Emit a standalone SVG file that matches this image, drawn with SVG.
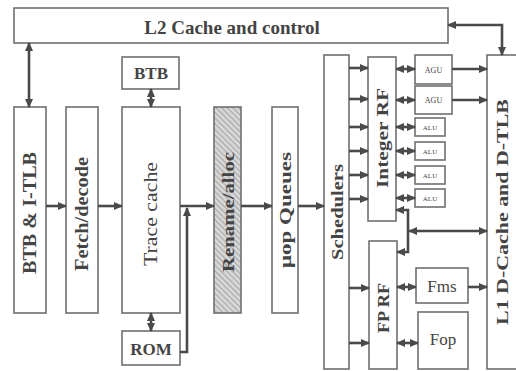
<svg xmlns="http://www.w3.org/2000/svg" width="516" height="371" viewBox="0 0 516 371">
<defs>
<marker id="ah" markerUnits="userSpaceOnUse" markerWidth="9" markerHeight="8" refX="8" refY="4" orient="auto-start-reverse"><path d="M0,0 L9,4 L0,8 z" fill="#4a4a4a"/></marker>
<pattern id="hatch" patternUnits="userSpaceOnUse" width="4" height="4" patternTransform="rotate(-45)"><rect width="4" height="4" fill="#d6d6d6"/><line x1="0" y1="0" x2="0" y2="4" stroke="#999" stroke-width="1.6"/></pattern>
<style>
.b{fill:#fff;stroke:#707070;stroke-width:1.6}
.t{font-family:"Liberation Serif",serif;font-weight:bold;fill:#444;text-anchor:middle;dominant-baseline:central}
.n{font-weight:normal}
.c{fill:none;stroke:#4a4a4a;stroke-width:2.6}
.s{marker-end:url(#ah)}
.d{marker-start:url(#ah);marker-end:url(#ah)}
</style>
</defs>
<rect width="516" height="371" fill="#fff"/>
<g id="l2"><rect class="b" x="14" y="8" width="434" height="35"/><text class="t" x="232" y="27" font-size="19">L2 Cache and control</text></g>
<g id="btb-itlb"><rect class="b" x="14" y="107" width="32" height="206"/><text class="t" transform="translate(30,213) rotate(-90)" font-size="18" textLength="122" lengthAdjust="spacingAndGlyphs">BTB &amp; I-TLB</text></g>
<g id="fetch"><rect class="b" x="66" y="107" width="32" height="206"/><text class="t" transform="translate(82,214) rotate(-90)" font-size="18" textLength="114" lengthAdjust="spacingAndGlyphs">Fetch/decode</text></g>
<g id="trace"><rect class="b" x="122" y="107" width="58" height="206"/><text class="t n" transform="translate(151,214) rotate(-90)" font-size="18" textLength="104" lengthAdjust="spacingAndGlyphs">Trace cache</text></g>
<g id="btb"><rect class="b" x="122" y="57" width="57" height="32"/><text class="t" x="151" y="73" font-size="17">BTB</text></g>
<g id="rom"><rect class="b" x="122" y="331" width="58" height="34"/><text class="t" x="151" y="349" font-size="17">ROM</text></g>
<g id="rename"><rect x="214" y="107" width="27" height="206" fill="url(#hatch)" stroke="#707070" stroke-width="1.6"/><text class="t" transform="translate(228,212) rotate(-90)" font-size="17" textLength="120" lengthAdjust="spacingAndGlyphs">Rename/alloc</text></g>
<g id="queues"><rect class="b" x="272" y="107" width="26" height="206"/><text class="t" transform="translate(285,210) rotate(-90)" font-size="17" textLength="116" lengthAdjust="spacingAndGlyphs">μop Queues</text></g>
<g id="schedulers"><rect class="b" x="324" y="55" width="25" height="314"/><text class="t" transform="translate(337,212) rotate(-90)" font-size="17" textLength="96" lengthAdjust="spacingAndGlyphs">Schedulers</text></g>
<g id="intrf"><rect class="b" x="368" y="57" width="28" height="164"/><text class="t" transform="translate(382,138) rotate(-90)" font-size="17" textLength="100" lengthAdjust="spacingAndGlyphs">Integer RF</text></g>
<g id="fprf"><rect class="b" x="369" y="241" width="28" height="128"/><text class="t" transform="translate(383,308) rotate(-90)" font-size="17" textLength="50" lengthAdjust="spacingAndGlyphs">FP RF</text></g>
<g id="agu1"><rect class="b" x="415" y="55" width="37" height="29"/><text class="t n" x="433.5" y="70" font-size="8">AGU</text></g>
<g id="agu2"><rect class="b" x="415" y="86" width="37" height="28"/><text class="t n" x="433.5" y="100" font-size="8">AGU</text></g>
<g id="alu1"><rect class="b" x="415" y="118" width="30" height="18"/><text class="t n" x="430" y="127.5" font-size="7">ALU</text></g>
<g id="alu2"><rect class="b" x="415" y="142" width="30" height="18"/><text class="t n" x="430" y="151.5" font-size="7">ALU</text></g>
<g id="alu3"><rect class="b" x="415" y="166" width="30" height="18"/><text class="t n" x="430" y="175.5" font-size="7">ALU</text></g>
<g id="alu4"><rect class="b" x="415" y="189" width="30" height="18"/><text class="t n" x="430" y="198.5" font-size="7">ALU</text></g>
<g id="l1"><rect class="b" x="487" y="55" width="34" height="314"/><text class="t" transform="translate(502,212) rotate(-90)" font-size="17" textLength="226" lengthAdjust="spacingAndGlyphs">L1 D-Cache and D-TLB</text></g>
<g id="fms"><rect class="b" x="416" y="268" width="52" height="35"/><text class="t n" x="442" y="286" font-size="17">Fms</text></g>
<g id="fop"><rect class="b" x="418" y="312" width="50" height="57"/><text class="t n" x="443" y="339" font-size="17">Fop</text></g>
<g id="connectors">
<path class="c d" d="M29,43 V107"/>
<path class="c s" d="M46,206 H66"/>
<path class="c s" d="M98,206 H122"/>
<path class="c d" d="M151,89 V107"/>
<path class="c d" d="M151,313 V331"/>
<path class="c s" d="M180,206 H214"/>
<path class="c s" d="M180,352 H187 V208"/>
<path class="c s" d="M241,206 H272"/>
<path class="c s" d="M298,206 H324"/>
<path class="c s" d="M349,68 H368"/>
<path class="c s" d="M349,99 H368"/>
<path class="c s" d="M349,127 H368"/>
<path class="c s" d="M349,151 H368"/>
<path class="c s" d="M349,175 H368"/>
<path class="c s" d="M349,199 H368"/>
<path class="c d" d="M396,69 H415"/>
<path class="c d" d="M396,100 H415"/>
<path class="c d" d="M396,127 H415"/>
<path class="c d" d="M396,151 H415"/>
<path class="c d" d="M396,175 H415"/>
<path class="c d" d="M396,198 H415"/>
<path class="c s" d="M452,69 H487"/>
<path class="c s" d="M452,100 H487"/>
<path class="c d" d="M448,25 H502 V55"/>
<path class="c d" d="M396,210 H408 V252 H397"/>
<path class="c d" d="M409,231 H487"/>
<path class="c s" d="M349,288 H369"/>
<path class="c s" d="M349,343 H369"/>
<path class="c d" d="M397,287 H416"/>
<path class="c d" d="M397,343 H418"/>
<path class="c s" d="M468,287 H487"/>
</g>
</svg>
